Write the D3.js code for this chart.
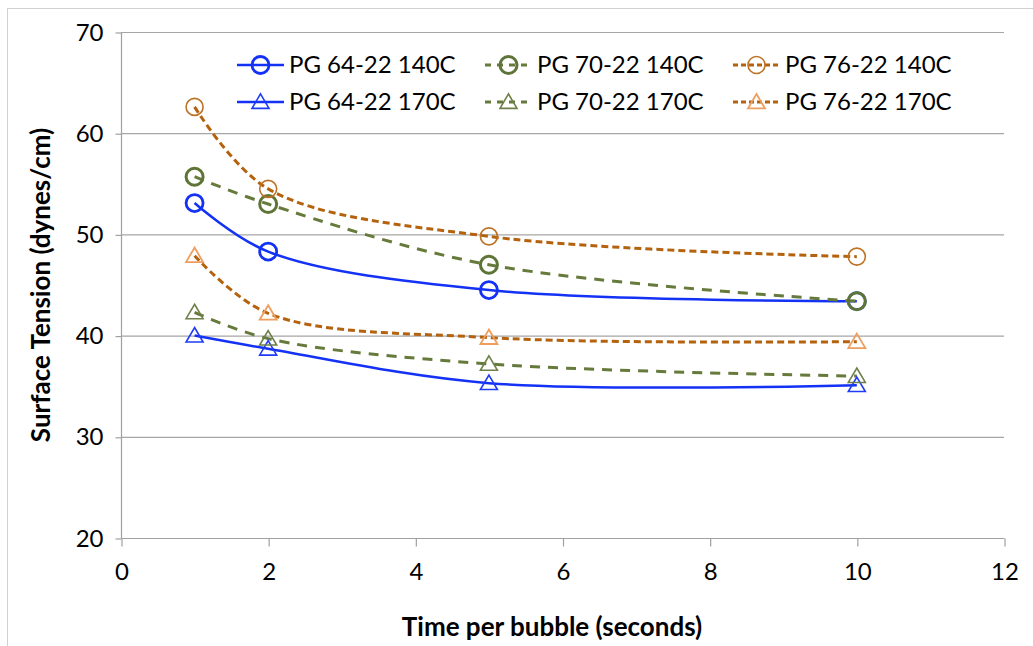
<!DOCTYPE html>
<html><head><meta charset="utf-8">
<script src="https://cdn.jsdelivr.net/npm/d3@7"></script>
<style>body{margin:0;background:#fff;}text{font-family:Lato,"Open Sans",sans-serif;}</style>
</head><body>
<svg id="c" width="1033" height="646"></svg>
<script>
const times = [1, 2, 5, 10];
const pg6422_140 = [53.1, 48.3, 44.5, 43.4];
const pg7022_140 = [55.7, 53.0, 47.0, 43.4];
const pg7622_140 = [62.6, 54.5, 49.8, 47.8];
const pg6422_170 = [40.0, 38.7, 35.3, 35.1];
const pg7022_170 = [42.3, 39.7, 37.2, 36.0];
const pg7622_170 = [47.9, 42.2, 39.8, 39.4];
const seriesNames = ["PG 64-22 140C","PG 70-22 140C","PG 76-22 140C","PG 64-22 170C","PG 70-22 170C","PG 76-22 170C"];
const xTicks = [0,2,4,6,8,10,12];
const yTicks = [20,30,40,50,60,70];

const series = [
 {name:seriesNames[0], v:pg6422_140, line:"#1432F5", mk:"#1432F5", dash:null, w:2.5, shape:"circle", mw:2.8},
 {name:seriesNames[1], v:pg7022_140, line:"#667A3C", mk:"#5F7537", dash:"10,8", w:3, shape:"circle", mw:3},
 {name:seriesNames[2], v:pg7622_140, line:"#B4620E", mk:"#BD7226", dash:"7,4", w:3, shape:"circle", mw:1.6},
 {name:seriesNames[3], v:pg6422_170, line:"#1432F5", mk:"#1E3CF5", dash:null, w:2.5, shape:"tri", mw:1.6},
 {name:seriesNames[4], v:pg7022_170, line:"#667A3C", mk:"#6E8048", dash:"10,8", w:3, shape:"tri", mw:1.6},
 {name:seriesNames[5], v:pg7622_170, line:"#B4620E", mk:"#EE9E5E", dash:"7,4", w:3, shape:"tri", mw:1.8},
];

const svg = d3.select("#c");
svg.append("rect").attr("x",7.5).attr("y",8.5).attr("width",1030).attr("height",640).attr("fill","none").attr("stroke","#d0d0d0");

const x = d3.scaleLinear().domain([0,12]).range([121,1004]);
const y = d3.scaleLinear().domain([20,70]).range([538,32]);

svg.append("g").selectAll("line").data(yTicks.slice(1)).join("line")
  .attr("x1",121).attr("x2",1004).attr("y1",d=>y(d)+0.5).attr("y2",d=>y(d)+0.5)
  .attr("stroke","#a6a6a6").attr("stroke-width",1.2);

const ya = svg.append("g").attr("transform","translate(121.5,0.5)")
  .call(d3.axisLeft(y).tickValues(yTicks).tickSize(6).tickPadding(12));
const xa = svg.append("g").attr("transform","translate(0.5,538.5)")
  .call(d3.axisBottom(x).tickValues(xTicks).tickSize(8).tickPadding(16));
[ya,xa].forEach(a=>{
  a.attr("font-size",24).attr("font-family","Lato, sans-serif");
  a.selectAll("path,line").attr("stroke","#a0a0a0").attr("stroke-width",1.2);
  a.selectAll("text").attr("fill","#000");
});
ya.select(".domain").attr("d","M0,"+(y(20))+"V"+y(70));
xa.select(".domain").attr("d","M"+x(0)+",0H"+x(12));

svg.append("text").attr("x",552).attr("y",636).attr("text-anchor","middle")
  .attr("font-size",26).attr("font-weight","bold").text("Time per bubble (seconds)");
svg.append("text").attr("transform","translate(50,285) rotate(-90)").attr("text-anchor","middle")
  .attr("font-size",26).attr("font-weight","bold").text("Surface Tension (dynes/cm)");

const line = d3.line().x(d=>x(d[0])).y(d=>y(d[1])).curve(d3.curveCatmullRom.alpha(0.5));
const triPath = (cx,cy,s)=>`M${cx},${cy-s*0.95}L${cx+s},${cy+s*0.75}L${cx-s},${cy+s*0.75}Z`;

function marker(g, s, cx, cy){
  if(s.shape==="circle"){
    g.append("circle").attr("cx",cx).attr("cy",cy).attr("r",8.5).attr("fill","none")
      .attr("stroke",s.mk).attr("stroke-width",s.mw);
  } else {
    g.append("path").attr("d",triPath(cx,cy,8.5)).attr("fill","none")
      .attr("stroke",s.mk).attr("stroke-width",s.mw);
  }
}

const plot = svg.append("g");
series.forEach(s=>{
  const pts = times.map((t,i)=>[t,s.v[i]]);
  plot.append("path").attr("d",line(pts)).attr("fill","none").attr("stroke",s.line)
    .attr("stroke-width",s.w).attr("stroke-dasharray",s.dash);
});
series.forEach(s=>{
  times.forEach((t,i)=>marker(plot,s,x(t),y(s.v[i])));
});

const legCols = [237, 485, 733];
const legRows = [65, 102];
series.forEach((s,i)=>{
  const lx = legCols[i%3], ly = legRows[Math.floor(i/3)];
  const g = svg.append("g");
  g.append("line").attr("x1",lx).attr("x2",lx+47).attr("y1",ly).attr("y2",ly)
   .attr("stroke",s.line).attr("stroke-width",s.w)
   .attr("stroke-dasharray",s.dash? (i%3===1?"6,6":"5,3"):null);
  marker(g,s,lx+23.5,ly);
  g.append("text").attr("x",lx+52).attr("y",ly+8).attr("font-size",24).attr("fill","#000").text(s.name);
});
</script>
</body></html>
